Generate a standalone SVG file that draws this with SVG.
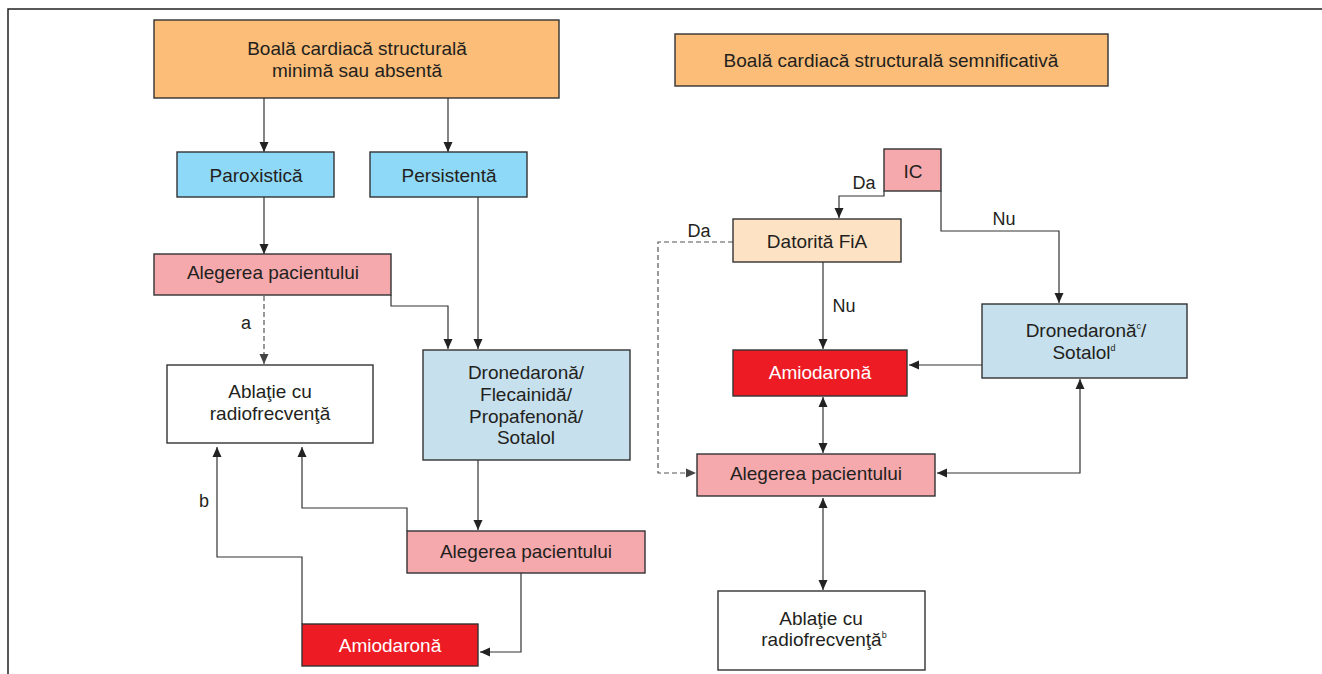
<svg xmlns="http://www.w3.org/2000/svg" width="1322" height="674" viewBox="0 0 1322 674">
<defs>
<marker id="arr" viewBox="0 0 10 10" refX="10" refY="5" markerWidth="10" markerHeight="10" markerUnits="userSpaceOnUse" orient="auto-start-reverse">
<path d="M0,0.5 L10,5 L0,9.5 Z" fill="#222"/>
</marker>
<marker id="arrg" viewBox="0 0 10 10" refX="10" refY="5" markerWidth="10" markerHeight="10" markerUnits="userSpaceOnUse" orient="auto-start-reverse">
<path d="M0,0.5 L10,5 L0,9.5 Z" fill="#444"/>
</marker>
</defs>
<style>
.n{stroke:#333;stroke-width:1.4}
.or{fill:#fbbd77}.cy{fill:#8ed8f8}.pk{fill:#f5a9ac}.lb{fill:#c6e0ee}.rd{fill:#ed1c24}.pc{fill:#fde3c4}.wh{fill:#fff}
text{font-family:"Liberation Sans",Arial,sans-serif;font-size:19px;fill:#231f20;text-anchor:middle}
.w{fill:#fff}
.lbl{font-size:18px}
.sup{font-size:9px}
.c{fill:none;stroke:#333;stroke-width:1.2;marker-end:url(#arr)}
.d{fill:none;stroke:#555;stroke-width:1.2;stroke-dasharray:5,3;marker-end:url(#arrg)}
.bi{marker-start:url(#arr)}
.frame{stroke:#222;stroke-width:1.5;fill:none}
</style>
<rect width="1322" height="674" fill="#fff"/>
<path class="frame" d="M8,674 L8,9 L1322,9"/>

<g id="connectors">
<path class="c" d="M264,98 L264,152"/>
<path class="c" d="M448,98 L448,152"/>
<path class="c" d="M264,197 L264,254"/>
<path class="c" d="M391,295 L391,306 L448,306 L448,349"/>
<path class="c" d="M478,197 L478,349"/>
<path class="d" d="M264,296 L264,364"/>
<path class="c" d="M478,460 L478,530"/>
<path class="c" d="M407,531 L407,508 L302,508 L302,447"/>
<path class="c" d="M302,624 L302,557 L217,557 L217,447"/>
<path class="c" d="M521,573 L521,652 L480,652"/>
<path class="c" d="M884,191 L884,196 L839,196 L839,218"/>
<path class="c" d="M941,191 L941,231 L1059,231 L1059,303"/>
<path class="c" d="M823,262 L823,349"/>
<path class="d" d="M733,242 L658,242 L658,473 L696,473"/>
<path class="c" d="M982,365 L909,365"/>
<path class="c bi" d="M1080,379 L1080,473 L937,473"/>
<path class="c bi" d="M823,397 L823,453"/>
<path class="c bi" d="M823,498 L823,590"/>
<text class="lbl" x="246" y="329">a</text>
<text class="lbl" x="204" y="507">b</text>
<text class="lbl" x="864" y="189">Da</text>
<text class="lbl" x="1004" y="225">Nu</text>
<text class="lbl" x="699" y="237">Da</text>
<text class="lbl" x="844" y="312">Nu</text>
</g>

<g id="n1"><rect class="n or" x="154" y="20" width="405" height="78"/>
<text x="357" y="55">Boală cardiacă structurală</text><text x="357" y="77">minimă sau absentă</text></g>
<g id="n2"><rect class="n or" x="675" y="34" width="433" height="52"/>
<text x="891" y="67">Boală cardiacă structurală semnificativă</text></g>
<g id="n3"><rect class="n cy" x="177" y="152" width="157" height="45"/>
<text x="256" y="182">Paroxistică</text></g>
<g id="n4"><rect class="n cy" x="370" y="152" width="157" height="45"/>
<text x="449" y="182">Persistentă</text></g>
<g id="n5"><rect class="n pk" x="154" y="254" width="237" height="41"/>
<text x="273" y="279">Alegerea pacientului</text></g>
<g id="n6"><rect class="n wh" x="167" y="365" width="206" height="78"/>
<text x="270" y="398">Ablaţie cu</text><text x="270" y="420">radiofrecvenţă</text></g>
<g id="n7"><rect class="n lb" x="423" y="350" width="207" height="110"/>
<text x="526" y="379">Dronedaronă/</text><text x="526" y="401">Flecainidă/</text><text x="526" y="423">Propafenonă/</text><text x="526" y="444">Sotalol</text></g>
<g id="n8"><rect class="n pk" x="407" y="531" width="238" height="42"/>
<text x="526" y="558">Alegerea pacientului</text></g>
<g id="n9"><rect class="n rd" x="302" y="624" width="176" height="42"/>
<text class="w" x="390" y="652">Amiodaronă</text></g>
<g id="n10"><rect class="n pk" x="884" y="149" width="57" height="42"/>
<text x="913" y="178">IC</text></g>
<g id="n11"><rect class="n pc" x="733" y="219" width="168" height="43"/>
<text x="817" y="248">Datorită FiA</text></g>
<g id="n12"><rect class="n rd" x="733" y="350" width="174" height="46"/>
<text class="w" x="820" y="379">Amiodaronă</text></g>
<g id="n13"><rect class="n lb" x="982" y="304" width="205" height="74"/>
<text x="1086" y="337">Dronedaronă<tspan class="sup" dy="-8">c</tspan><tspan dy="8">/</tspan></text>
<text x="1084" y="359">Sotalol<tspan class="sup" dy="-8">d</tspan></text></g>
<g id="n14"><rect class="n pk" x="697" y="454" width="238" height="42"/>
<text x="816" y="480">Alegerea pacientului</text></g>
<g id="n15"><rect class="n wh" x="718" y="591" width="207" height="79"/>
<text x="821" y="625">Ablaţie cu</text><text x="824" y="646">radiofrecvenţă<tspan class="sup" dy="-8">b</tspan></text></g>
</svg>
